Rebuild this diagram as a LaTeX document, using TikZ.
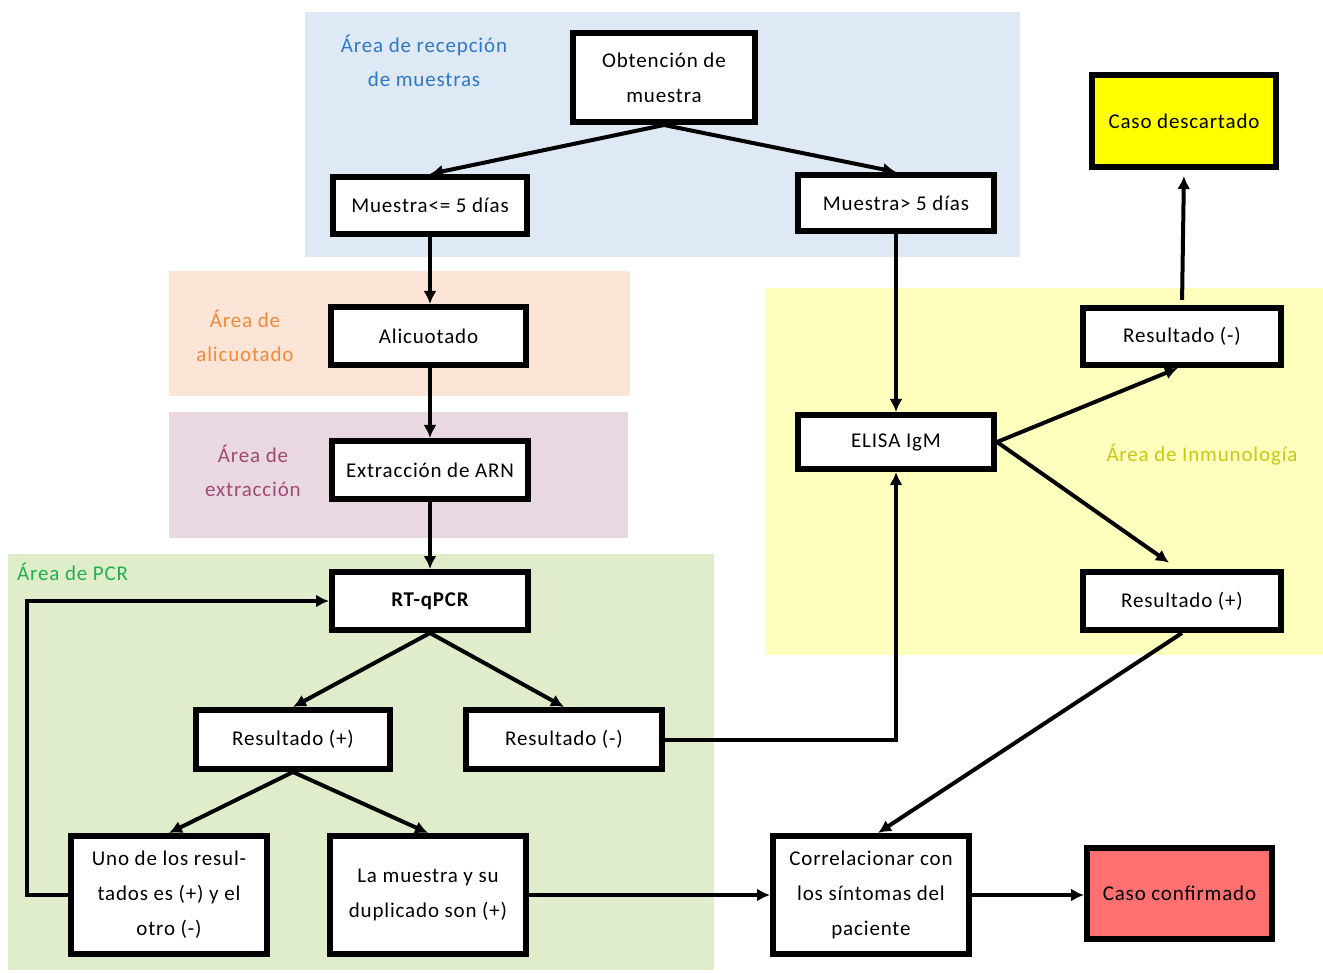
\documentclass[tikz,border=0pt]{standalone}
\usepackage{fontspec}
\setmainfont{Carlito}
\newfontfamily\boxfont[LetterSpace=4]{Carlito}
\usetikzlibrary{arrows.meta}
\definecolor{bgblue}{HTML}{DEE9F5}
\definecolor{bgpeach}{HTML}{FCE4D6}
\definecolor{bgmauve}{HTML}{E9D7E1}
\definecolor{bggreen}{HTML}{DFEDCB}
\definecolor{bgyellow}{HTML}{FFFFBE}
\definecolor{lblblue}{HTML}{2E78C8}
\definecolor{lblorange}{HTML}{F28A3C}
\definecolor{lblmauve}{HTML}{A04A72}
\definecolor{lblgreen}{HTML}{22B04E}
\definecolor{lblyellow}{HTML}{C8C814}
\definecolor{caseyellow}{HTML}{FFFF00}
\definecolor{casered}{HTML}{FF7070}
\begin{document}
\begin{tikzpicture}[x=1pt,y=-1pt,
  box/.style={draw, line width=6pt, fill=white, align=center, inner sep=0pt,
    font=\boxfont\fontsize{21}{35}\selectfont},
  arealbl/.style={align=center, inner sep=0pt, font=\boxfont\fontsize{21}{34}\selectfont},
  arr/.style={line width=4pt, -{Latex[length=13pt,width=13pt]}}]
\useasboundingbox (0,0) rectangle (1323,973);
% area backgrounds
\fill[bgblue] (305,12) rectangle (1020,257);
\fill[bgpeach] (169,271) rectangle (630,396);
\fill[bgmauve] (169,412) rectangle (628,538);
\fill[bggreen] (8,554) rectangle (714,970);
\fill[bgyellow] (765,288) rectangle (1323,655);
% area labels
\node[arealbl, text=lblblue] (lrec) at (424,61) {Área de recepción\\de muestras};
\node[arealbl, text=lblorange] (lali) at (245,336) {Área de\\alicuotado};
\node[arealbl, text=lblmauve] (lext) at (253,471) {Área de\\extracción};
\node[arealbl, text=lblgreen, anchor=west] (lpcr) at (17,572) {Área de PCR};
\node[arealbl, text=lblyellow] (linm) at (1202,455) {Área de Inmunología};
% boxes
\node[box, minimum width=182, minimum height=89] (obt) at (664,77.5) {Obtención de\\muestra};
\node[box, minimum width=194, minimum height=57] (m5a) at (430,205.5) {Muestra<= 5 días};
\node[box, minimum width=196, minimum height=56] (m5b) at (896,203) {Muestra> 5 días};
\node[box, fill=caseyellow, minimum width=184, minimum height=92] (desc) at (1184,121) {Caso descartado};
\node[box, minimum width=195, minimum height=58] (ali) at (428.5,336) {Alicuotado};
\node[box, minimum width=196, minimum height=58] (ext) at (430,470) {Extracción de ARN};
\node[box, minimum width=196, minimum height=54] (eli) at (896,442) {ELISA IgM};
\node[box, minimum width=198, minimum height=57] (ineg) at (1182,336.5) {Resultado (-)};
\node[box, minimum width=198, minimum height=58] (ipos) at (1182,601) {Resultado (+)};
\node[box, minimum width=196, minimum height=58, font=\boxfont\fontsize{21}{35}\selectfont\bfseries] (rt) at (430,601) {RT-qPCR};
\node[box, minimum width=194, minimum height=59] (ppos) at (293,739.5) {Resultado (+)};
\node[box, minimum width=196, minimum height=59] (pneg) at (564,739.5) {Resultado (-)};
\node[box, minimum width=196, minimum height=118] (uno) at (169,895) {Uno de los resul-\\tados es (+) y el\\otro (-)};
\node[box, minimum width=196, minimum height=118] (lam) at (428,895) {La muestra y su\\duplicado son (+)};
\node[box, minimum width=196, minimum height=118] (cor) at (871,895) {Correlacionar con\\los síntomas del\\paciente};
\node[box, fill=casered, minimum width=185, minimum height=91] (conf) at (1179.5,893.5) {Caso confirmado};
% connectors
\draw[arr] (obt.south) -- (m5a.north);
\draw[arr] (obt.south) -- (m5b.north);
\draw[arr] (m5a.south) -- (m5a.south |- ali.north);
\draw[arr] (m5a.south |- ali.south) -- (ext.north);
\draw[arr] (ext.south) -- (rt.north);
\draw[arr] (m5b.south) -- (eli.north);
\draw[arr] (eli.east) -- ([xshift=-4pt]ineg.south);
\draw[arr, shorten >=11pt] (eli.east) -- ([xshift=-4pt]ipos.north);
\draw[arr, shorten <=5pt, shorten >=6pt] (ineg.north) -- (desc.south);
\draw[arr] (ipos.south) -- ([xshift=7pt]cor.north);
\draw[arr] (rt.south) -- (ppos.north);
\draw[arr] (rt.south) -- (pneg.north);
\draw[arr] (ppos.south) -- (uno.north);
\draw[arr] (ppos.south) -- (lam.north);
\draw[arr] (uno.west) -- ++(-41,0) |- (rt.west);
\draw[arr] (lam.east) -- (cor.west);
\draw[arr] (pneg.east) -| (eli.south);
\draw[arr] (cor.east) -- (cor.east -| conf.west);
\end{tikzpicture}
\end{document}
